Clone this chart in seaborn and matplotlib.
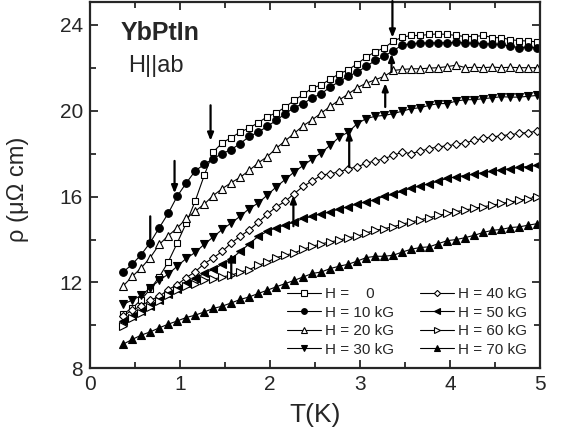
import matplotlib
matplotlib.use("Agg")
import matplotlib.pyplot as plt
import seaborn as sns
import pandas as pd
from matplotlib.ticker import MultipleLocator

# ---------------- data ----------------
temperature = [0.37, 0.47, 0.57, 0.67, 0.77, 0.87, 0.97, 1.07, 1.17, 1.27,
               1.37, 1.47, 1.57, 1.67, 1.77, 1.87, 1.97, 2.07, 2.17, 2.27,
               2.37, 2.47, 2.57, 2.67, 2.77, 2.87, 2.97, 3.07, 3.17, 3.27,
               3.37, 3.47, 3.57, 3.67, 3.77, 3.87, 3.97, 4.07, 4.17, 4.27,
               4.37, 4.47, 4.57, 4.67, 4.77, 4.87, 4.97]

rho_H0 = [10.55, 10.80, 11.20, 11.70, 12.26, 12.96, 13.84, 14.77, 15.80, 16.99,
          18.08, 18.50, 18.75, 19.00, 19.20, 19.44, 19.72, 19.90, 20.17, 20.48,
          20.76, 21.05, 21.20, 21.47, 21.72, 21.90, 22.19, 22.49, 22.75, 22.92,
          23.24, 23.42, 23.50, 23.50, 23.55, 23.57, 23.55, 23.50, 23.45, 23.45,
          23.50, 23.40, 23.40, 23.30, 23.26, 23.24, 23.20]
rho_H10 = [12.49, 12.85, 13.30, 13.86, 14.55, 15.22, 16.02, 16.63, 17.20, 17.50,
           17.77, 18.00, 18.19, 18.47, 18.80, 19.00, 19.27, 19.55, 19.86, 20.14,
           20.33, 20.60, 20.79, 21.10, 21.36, 21.60, 21.80, 22.06, 22.34, 22.53,
           22.80, 23.05, 23.12, 23.15, 23.15, 23.16, 23.16, 23.18, 23.15, 23.14,
           23.12, 23.10, 23.08, 23.00, 22.93, 22.96, 22.93]
rho_H20 = [11.84, 12.28, 12.68, 13.16, 13.77, 14.18, 14.54, 14.98, 15.32, 15.65,
           16.05, 16.37, 16.65, 16.90, 17.22, 17.57, 17.86, 18.25, 18.60, 18.95,
           19.30, 19.58, 19.89, 20.20, 20.50, 20.78, 21.07, 21.28, 21.44, 21.60,
           21.87, 21.92, 21.95, 21.95, 21.98, 22.00, 22.05, 22.12, 22.00, 22.02,
           22.00, 22.03, 22.00, 22.02, 22.00, 22.00, 22.00]
rho_H30 = [10.99, 11.18, 11.40, 11.75, 12.10, 12.39, 12.76, 13.12, 13.40, 13.78,
           14.12, 14.47, 14.77, 15.09, 15.44, 15.70, 16.07, 16.45, 16.80, 17.15,
           17.45, 17.75, 18.05, 18.39, 18.77, 19.00, 19.40, 19.63, 19.74, 19.78,
           19.86, 19.98, 20.09, 20.14, 20.25, 20.33, 20.33, 20.45, 20.51, 20.51,
           20.56, 20.60, 20.65, 20.63, 20.63, 20.67, 20.71]
rho_H40 = [10.45, 10.71, 10.90, 11.18, 11.35, 11.67, 11.90, 12.23, 12.50, 12.88,
           13.15, 13.45, 13.84, 14.15, 14.45, 14.80, 15.18, 15.52, 15.78, 16.14,
           16.48, 16.73, 16.99, 17.07, 17.15, 17.30, 17.38, 17.56, 17.66, 17.77,
           17.92, 18.07, 18.00, 18.12, 18.23, 18.32, 18.36, 18.44, 18.50, 18.62,
           18.72, 18.77, 18.84, 18.88, 18.95, 18.98, 19.05]
rho_H50 = [10.20, 10.42, 10.65, 10.90, 11.20, 11.48, 11.72, 11.98, 12.20, 12.42,
           12.62, 12.85, 13.10, 13.45, 13.80, 14.15, 14.38, 14.56, 14.67, 14.82,
           14.98, 15.08, 15.21, 15.28, 15.44, 15.52, 15.67, 15.75, 15.86, 16.02,
           16.11, 16.26, 16.40, 16.50, 16.60, 16.72, 16.85, 16.92, 16.98, 17.05,
           17.12, 17.18, 17.25, 17.30, 17.36, 17.40, 17.46]
rho_H60 = [9.97, 10.33, 10.56, 10.84, 11.15, 11.40, 11.65, 11.85, 11.95, 12.10,
           12.15, 12.26, 12.34, 12.49, 12.60, 12.80, 12.95, 13.16, 13.27, 13.38,
           13.55, 13.69, 13.80, 13.89, 13.97, 14.09, 14.15, 14.31, 14.43, 14.51,
           14.60, 14.72, 14.82, 14.92, 15.02, 15.12, 15.22, 15.30, 15.38, 15.45,
           15.53, 15.60, 15.68, 15.75, 15.82, 15.90, 15.98]
rho_H70 = [9.13, 9.35, 9.55, 9.70, 9.89, 10.06, 10.21, 10.37, 10.48, 10.63,
           10.79, 10.90, 11.05, 11.21, 11.33, 11.49, 11.64, 11.80, 11.95, 12.10,
           12.26, 12.42, 12.49, 12.65, 12.76, 12.85, 13.00, 13.16, 13.22, 13.22,
           13.27, 13.42, 13.55, 13.63, 13.66, 13.81, 13.95, 14.00, 14.09, 14.20,
           14.33, 14.43, 14.47, 14.56, 14.59, 14.67, 14.74]

labels = ["H =    0", "H = 10 kG", "H = 20 kG", "H = 30 kG",
          "H = 40 kG", "H = 50 kG", "H = 60 kG", "H = 70 kG"]
series = [rho_H0, rho_H10, rho_H20, rho_H30, rho_H40, rho_H50, rho_H60, rho_H70]
markers = ["s", "o", "^", "v", "D", "<", ">", "^"]
filled = [False, True, False, True, False, True, False, True]
msizes = [5.0, 5.5, 5.5, 5.5, 4.2, 5.5, 5.5, 5.5]

# arrows: (T, rho_tail, rho_head)
arrow_T = [0.67, 0.94, 1.34, 3.36, 3.35, 3.28, 2.88, 2.26, 1.57]
arrow_tail = [15.08, 17.66, 20.25, 25.1, 21.80, 20.17, 17.37, 14.62, 12.20]
arrow_head = [13.50, 16.15, 18.60, 23.40, 22.65, 21.28, 19.04, 16.06, 13.36]

# ---------------- plot ----------------
sns.set_style("ticks")
plt.rcParams["font.family"] = ["Liberation Sans", "DejaVu Sans"]

fig = plt.figure(figsize=(5.62, 4.36), dpi=100)
ax = fig.add_axes([0.160, 0.155, 0.801, 0.840])

for rho, lab, m, f, ms in zip(series, labels, markers, filled, msizes):
    df = pd.DataFrame({"T": temperature, "rho": rho})
    sns.lineplot(data=df, x="T", y="rho", ax=ax, color="black", lw=0.8,
                 marker=m, markersize=ms, markeredgewidth=0.8,
                 markerfacecolor="black" if f else "white",
                 markeredgecolor="black", label=lab, legend=False)

for t, y0, y1 in zip(arrow_T, arrow_tail, arrow_head):
    ax.annotate("", xy=(t, y1), xytext=(t, y0),
                arrowprops=dict(arrowstyle="-|>,head_length=0.45,head_width=0.18",
                                color="black", lw=1.6, shrinkA=0, shrinkB=0),
                annotation_clip=False)

ax.set_xlim(0, 5)
ax.set_ylim(8, 25.05)
ax.xaxis.set_major_locator(MultipleLocator(1))
ax.xaxis.set_minor_locator(MultipleLocator(0.5))
ax.yaxis.set_major_locator(MultipleLocator(4))
ax.yaxis.set_minor_locator(MultipleLocator(2))
ax.tick_params(which="both", direction="in", top=True, right=True,
               width=1.3, labelsize=15)
ax.tick_params(which="major", length=6, pad=5)
ax.tick_params(which="minor", length=4)
for sp in ax.spines.values():
    sp.set_linewidth(1.6)

ax.set_xlabel("T(K)", fontsize=19, labelpad=6)
ax.set_ylabel("ρ (μΩ cm)", fontsize=17, labelpad=4)
ax.yaxis.set_label_coords(-0.135, 0.49)

ax.text(0.068, 0.915, "YbPtIn", transform=ax.transAxes, fontsize=18,
        fontweight="bold", va="center", ha="left")
ax.text(0.085, 0.825, "H||ab", transform=ax.transAxes, fontsize=17,
        va="center", ha="left")

handles, labs = ax.get_legend_handles_labels()
ax.legend(handles, labs, ncol=2, loc="lower right",
          bbox_to_anchor=(0.972, 0.032), frameon=False, fontsize=11,
          handlelength=2.2, handletextpad=0.3, columnspacing=1.7,
          labelspacing=0.3, borderpad=0, borderaxespad=0, markerscale=0.75)

fig.savefig("out.png", dpi=100)
